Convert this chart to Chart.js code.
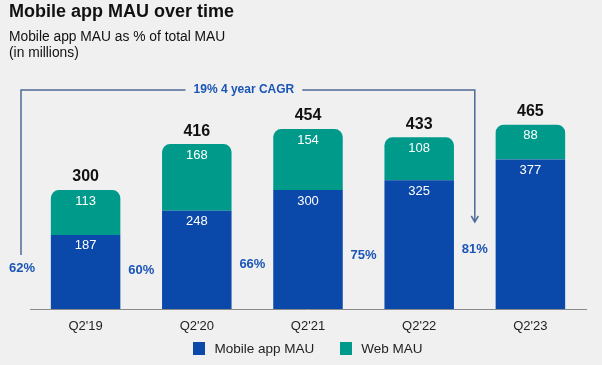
<!DOCTYPE html>
<html>
<head>
<meta charset="utf-8">
<script src="https://cdn.jsdelivr.net/npm/chart.js@4.4.1/dist/chart.umd.min.js"></script>
<style>
  body { margin: 0; background: #f0f0f0; font-family: "Liberation Sans", Arial, sans-serif; }
  #wrap { position: relative; width: 602px; height: 365px; }
  #title { position: absolute; left: 9px; top: 0; font-size: 18px; line-height: 22px; font-weight: bold; color: #111; }
  #subtitle { position: absolute; left: 9px; top: 29px; font-size: 13.8px; line-height: 16px; color: #111; }
  canvas { position: absolute; left: 0; top: 0; }
  #legend { position: absolute; left: 30px; width: 556px; top: 341px; display: flex; justify-content: center; gap: 26px; font-size: 13.5px; color: #222; }
  #legend .item { display: flex; align-items: center; }
  #legend .box { width: 12px; height: 13px; margin-right: 9px; }
</style>
</head>
<body>
<div id="wrap">
  <canvas id="chart" width="602" height="365"></canvas>
  <div id="title">Mobile app MAU over time</div>
  <div id="subtitle">Mobile app MAU as % of total MAU<br>(in millions)</div>
  <div id="legend"></div>
</div>
<script>
const categories = ["Q2'19", "Q2'20", "Q2'21", "Q2'22", "Q2'23"];
const seriesNames = ['Mobile app MAU', 'Web MAU'];
const mobileMau = [187, 248, 300, 325, 377];
const webMau = [113, 168, 154, 108, 88];
const totalMau = [300, 416, 454, 433, 465];
const mobileShare = [62, 60, 66, 75, 81];
const cagrText = '19% 4 year CAGR';

const BLUE = '#0a48a9';
const TEAL = '#009a8b';
const LABEL_BLUE = '#1b55b5';
const LINE = '#4f6a96';
const FONT = '"Liberation Sans", Arial, sans-serif';

// labels, percentages and the CAGR bracket
const labelPlugin = {
  id: 'labels',
  afterDatasetsDraw(chart) {
    const ctx = chart.ctx;
    const x = chart.scales.x;
    const y = chart.scales.y;
    const area = chart.chartArea;
    ctx.save();
    ctx.textAlign = 'center';
    ctx.textBaseline = 'middle';

    categories.forEach((c, i) => {
      const cx = x.getPixelForValue(i);
      // segment values
      ctx.fillStyle = '#fff';
      ctx.font = '13px ' + FONT;
      ctx.fillText(String(mobileMau[i]), cx, y.getPixelForValue(mobileMau[i]) + 11);
      ctx.fillText(String(webMau[i]), cx, y.getPixelForValue(totalMau[i]) + 11);
      // totals
      ctx.fillStyle = '#111';
      ctx.font = 'bold 16px ' + FONT;
      ctx.fillText(String(totalMau[i]), cx, y.getPixelForValue(totalMau[i]) - 13);
      // share of total
      ctx.fillStyle = LABEL_BLUE;
      ctx.font = 'bold 13px ' + FONT;
      const px = i === 0 ? area.left - 8 : x.getPixelForValue(i - 0.5);
      const py = y.getPixelForValue(0) - 39 - (mobileShare[i] - 60);
      ctx.fillText(mobileShare[i] + '%', px, py);
    });

    // bracket from first to last period
    const lx = area.left - 9;
    const rx = x.getPixelForValue(categories.length - 1.5);
    const topY = area.top - 1;
    const leftBottom = y.getPixelForValue(0) - 54;
    const arrowY = y.getPixelForValue(0) - 87;
    ctx.font = 'bold 12px ' + FONT;
    const tw = ctx.measureText(cagrText).width;
    const mid = (lx + rx) / 2 - 4;
    ctx.strokeStyle = LINE;
    ctx.lineWidth = 1.5;
    ctx.beginPath();
    ctx.moveTo(lx, leftBottom);
    ctx.lineTo(lx, topY);
    ctx.lineTo(mid - tw / 2 - 8, topY);
    ctx.moveTo(mid + tw / 2 + 8, topY);
    ctx.lineTo(rx, topY);
    ctx.lineTo(rx, arrowY);
    ctx.stroke();
    ctx.beginPath();
    ctx.moveTo(rx - 3.5, arrowY - 6);
    ctx.lineTo(rx, arrowY);
    ctx.lineTo(rx + 3.5, arrowY - 6);
    ctx.stroke();
    ctx.fillStyle = LABEL_BLUE;
    ctx.fillText(cagrText, mid, topY);
    ctx.restore();
  }
};

const chart = new Chart(document.getElementById('chart'), {
  type: 'bar',
  data: {
    labels: categories,
    datasets: [
      {
        label: seriesNames[0],
        data: mobileMau,
        backgroundColor: BLUE,
        borderRadius: 0,
        borderSkipped: false
      },
      {
        label: seriesNames[1],
        data: webMau,
        backgroundColor: TEAL,
        borderRadius: { topLeft: 8, topRight: 8, bottomLeft: 0, bottomRight: 0 },
        borderSkipped: false
      }
    ]
  },
  options: {
    responsive: false,
    animation: false,
    layout: { padding: { left: 30, right: 16, top: 91, bottom: 29 } },
    datasets: { bar: { categoryPercentage: 1, barPercentage: 0.625 } },
    scales: {
      x: {
        stacked: true,
        grid: { display: false },
        border: { display: true, color: '#8a8a8a', width: 1 },
        ticks: { color: '#222', font: { size: 13, family: FONT }, padding: 2 },
        afterFit: s => { s.height = 27; }
      },
      y: {
        stacked: true,
        display: false,
        min: 0,
        max: 550
      }
    },
    plugins: {
      legend: { display: false },
      tooltip: { enabled: false }
    }
  },
  plugins: [labelPlugin]
});

// legend built from the datasets
const legendEl = document.getElementById('legend');
chart.data.datasets.forEach(ds => {
  const item = document.createElement('div');
  item.className = 'item';
  const box = document.createElement('span');
  box.className = 'box';
  box.style.background = ds.backgroundColor;
  const txt = document.createElement('span');
  txt.textContent = ds.label;
  item.appendChild(box);
  item.appendChild(txt);
  legendEl.appendChild(item);
});
</script>
</body>
</html>
